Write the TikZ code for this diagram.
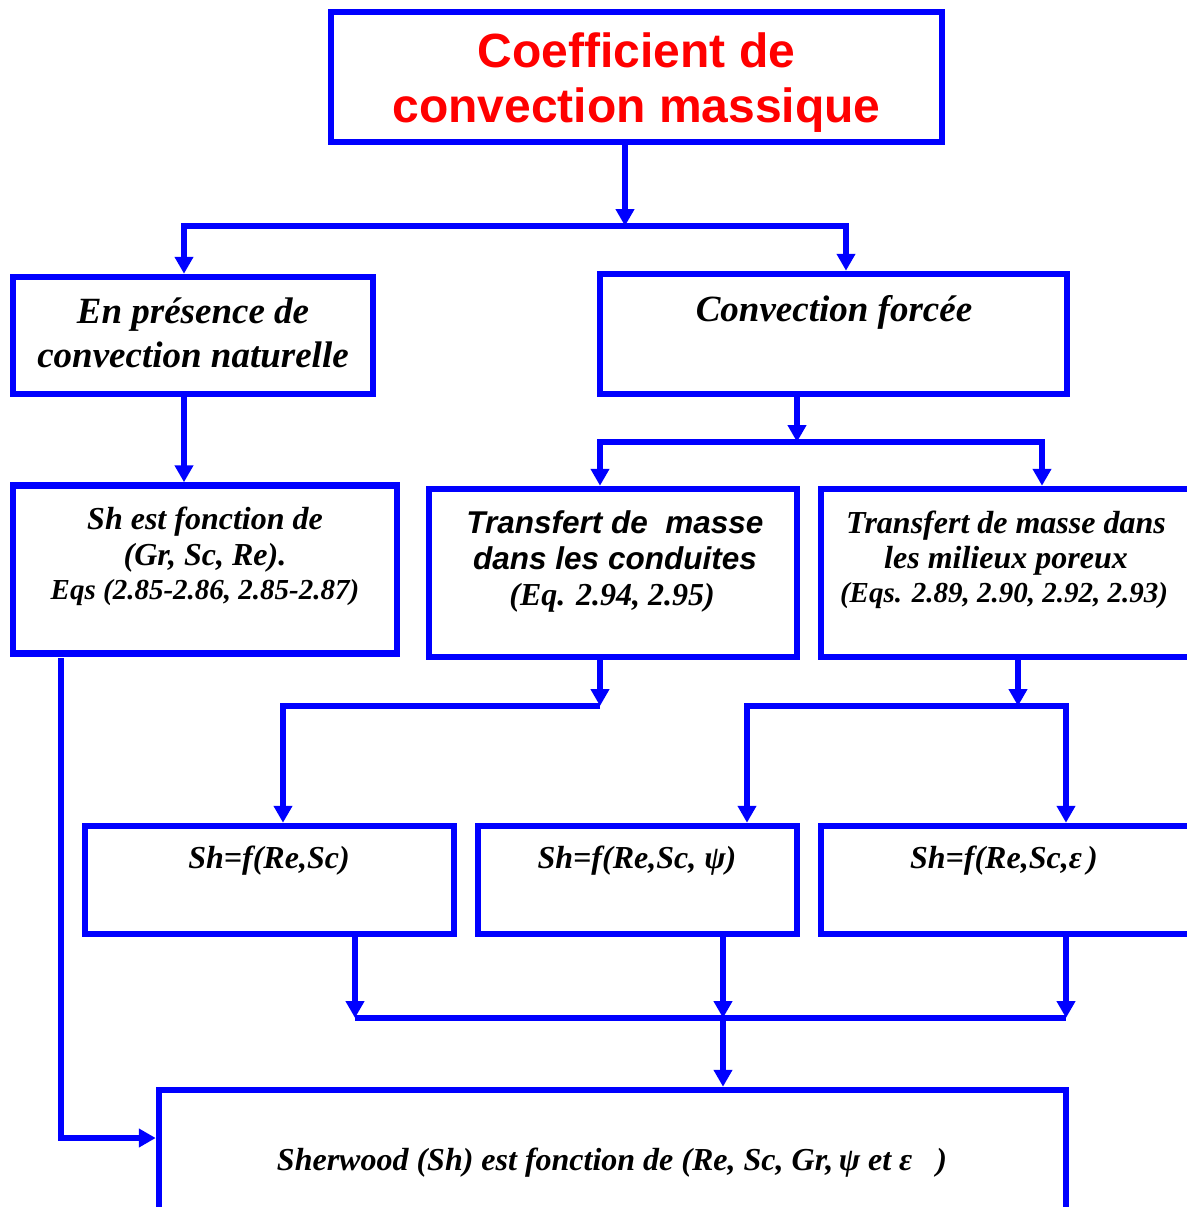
\documentclass[tikz,border=0pt]{standalone}
\usepackage{fontspec}
\setmainfont{Liberation Serif}
\newfontfamily\arialf{Liberation Sans}
\usetikzlibrary{arrows.meta}
\definecolor{boxblue}{RGB}{0,0,255}
\definecolor{titlered}{RGB}{255,0,0}
\begin{document}
\begin{tikzpicture}[x=1pt,y=-1pt,
  box/.style={draw=boxblue,line width=6.5pt,rectangle,inner sep=0pt,fill=white},
  conn/.style={draw=boxblue,line width=6.5pt,line join=miter},
  arr/.style={conn,-{Triangle[width=18pt,length=17pt]}},
  arrs/.style={conn,{Triangle[width=18pt,length=17pt]}-{Triangle[width=18pt,length=17pt]}},
  txt/.style={inner sep=0pt,anchor=base,text=black},
  title/.style={txt,text=titlered,font=\arialf\fontsize{48}{55}\selectfont\bfseries},
  head/.style={txt,font=\fontsize{37}{44}\selectfont\bfseries\itshape},
  body/.style={txt,font=\fontsize{32}{36}\selectfont\bfseries\itshape},
  bodysans/.style={txt,font=\arialf\fontsize{31.5}{36}\selectfont\bfseries\itshape},
  eqs/.style={txt,font=\fontsize{29}{34}\selectfont\bfseries\itshape}]
\useasboundingbox (0,0) rectangle (1186,1207);

% boxes
\node[box,minimum width=611pt,minimum height=130pt] (top) at (636.5,77) {};
\node[box,minimum width=360pt,minimum height=117pt] (nat) at (193,335.5) {};
\node[box,minimum width=467pt,minimum height=120pt] (forc) at (833.5,334) {};
\node[box,minimum width=384pt,minimum height=168pt] (shbox) at (205,569.5) {};
\node[box,minimum width=368pt,minimum height=168pt] (cond) at (613,573) {};
\node[box,minimum width=379pt,minimum height=168pt] (por) at (1010.5,573) {};
\node[box,minimum width=369pt,minimum height=108pt] (rA) at (269.5,880) {};
\node[box,minimum width=319pt,minimum height=108pt] (rB) at (637.5,880) {};
\node[box,minimum width=379pt,minimum height=108pt] (rC) at (1010.5,880) {};
\node[box,minimum width=907pt,minimum height=140pt] (bot) at (612.5,1160) {};

% texts
\node[title] (t1) at (636.5,67) {Coefficient de};
\node[title] (t2) at (636.5,122) {convection massique};
\node[head] (n1) at (193,323) {En présence de};
\node[head] (n2) at (193,367) {convection naturelle};
\node[head] (f1) at (834,321) {Convection forcée};
\node[body] (s1) at (205,529) {Sh est fonction de};
\node[body] (s2) at (205,565) {(Gr, Sc, Re).};
\node[eqs] (s3) at (205,599) {Eqs (2.85-2.86, 2.85-2.87)};
\node[bodysans] (c1) at (615,533) {Transfert de\ \ masse};
\node[bodysans] (c2) at (615,569) {dans les conduites};
\node[body] (c3) at (612,605) {(Eq. 2.94, 2.95)};
\node[body] (p1) at (1006,533) {Transfert de masse dans};
\node[body] (p2) at (1006,568) {les milieux poreux};
\node[eqs] (p3) at (1004,602) {(Eqs. 2.89, 2.90, 2.92, 2.93)};
\node[body] (a1) at (269,868) {Sh=f(Re,Sc)};
\node[body] (b1) at (637,868) {Sh=f(Re,Sc, ψ)};
\node[body] (r1) at (1004,868) {Sh=f(Re,Sc,ε\,)};
\node[body] (z1) at (612,1170) {Sherwood (Sh) est fonction de (Re, Sc, Gr,\,ψ et ε\ \ \ )};

% junction points
\coordinate (j0) at (625,226);
\coordinate (jL) at (184,226);
\coordinate (jR) at (846,226);
\coordinate (k0) at (797,442);
\coordinate (kL) at (600,442);
\coordinate (kR) at (1042,442);
\coordinate (m0) at (600,706);
\coordinate (mL) at (283,706);
\coordinate (q0) at (1018,706);
\coordinate (qL) at (747,706);
\coordinate (qR) at (1066,706);
\coordinate (u1) at (355,1018);
\coordinate (u2) at (723,1018);
\coordinate (u3) at (1066,1018);
\coordinate (v0) at (61,658);
\coordinate (v1) at (61,1138);

% connectors
\draw[arr] (top.south -| j0) -- (j0);
\draw[arrs] (jL |- nat.north) -- (jL) -- (jR) -- (jR |- forc.north);
\draw[arr] (nat.south -| jL) -- (shbox.north -| jL);
\draw[arr] (forc.south -| k0) -- (k0);
\draw[arrs] (kL |- cond.north) -- (kL) -- (kR) -- (kR |- por.north);
\draw[arr] (cond.south -| m0) -- (m0);
\draw[arr] (m0) -- (mL) -- (mL |- rA.north);
\draw[arr] (por.south -| q0) -- (q0);
\draw[arrs] (qL |- rB.north) -- (qL) -- (qR) -- (qR |- rC.north);
\draw[arr] (rA.south -| u1) -- (u1);
\draw[arr] (rB.south -| u2) -- (u2);
\draw[arr] (rC.south -| u3) -- (u3);
\draw[conn] (u1) -- (u3);
\draw[arr] (u2) -- (u2 |- bot.north);
\draw[arr] (v0) -- (v1) -- (v1 -| bot.west);
\end{tikzpicture}
\end{document}
